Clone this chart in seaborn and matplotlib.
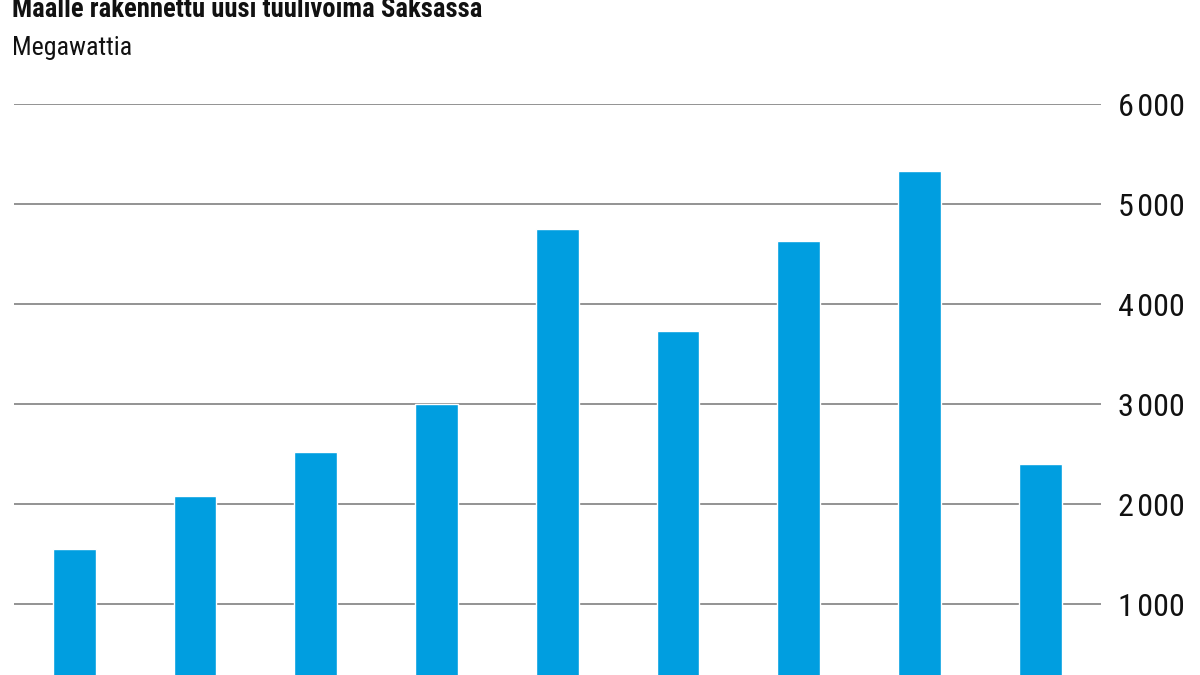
import matplotlib
matplotlib.use("Agg")
import matplotlib.pyplot as plt
from matplotlib import font_manager
import seaborn as sns
import pandas as pd

years = ["2010", "2011", "2012", "2013", "2014", "2015", "2016", "2017", "2018"]
megawatts = [1550, 2083, 2516, 2998, 4747, 3727, 4627, 5330, 2397]
yticks = [1000, 2000, 3000, 4000, 5000, 6000]
ytick_labels = ["1\u200a000", "2\u200a000", "3\u200a000", "4\u200a000", "5\u200a000", "6\u200a000"]
title = "Maalle rakennettu uusi tuulivoima Saksassa"
subtitle = "Megawattia"

sns.set_theme(style="white")
available = {f.name for f in font_manager.fontManager.ttflist}
prefs = ["Roboto Condensed", "Liberation Sans Narrow", "Open Sans Condensed",
         "Noto Sans Condensed", "DejaVu Sans Condensed", "Roboto", "Lato"]
main_font = next((p for p in prefs if p in available), "DejaVu Sans")
plt.rcParams['font.family'] = [main_font, 'DejaVu Sans']

df = pd.DataFrame({"vuosi": years, "MW": megawatts})

W, H = 1200, 675
fig = plt.figure(figsize=(12, 6.75), dpi=100)
ax = fig.add_axes([14 / W, (H - 704) / H, (1100.5 - 14) / W, 600 / H])

sns.barplot(data=df, x="vuosi", y="MW", color="#009ee0", width=0.354,
            saturation=1, ax=ax)

ax.set_xlim(-0.5, 8.5)
ax.set_ylim(0, 6000)
ax.set_xlabel("")
ax.set_ylabel("")
ax.set_axisbelow(True)
ax.yaxis.grid(True, color="#8a8a8a", linewidth=1.3)
ax.xaxis.grid(False)
for s in ax.spines.values():
    s.set_visible(False)
ax.yaxis.tick_right()
ax.set_yticks(yticks)
ax.set_yticklabels(ytick_labels)
ax.tick_params(axis="y", length=0, pad=12.5, labelsize=22, labelcolor="#111111")
ax.tick_params(axis="x", length=0, labelbottom=False)

t1 = fig.text(12 / W, (H - 17) / H, title, fontsize=20, fontweight="bold",
              color="#111111", ha="left", va="baseline")
t2 = fig.text(12 / W, (H - 55) / H, subtitle, fontsize=20, color="#111111",
              ha="left", va="baseline")

# fit text sizes to the widths seen in the reference
fig.canvas.draw()
r = fig.canvas.get_renderer()
def fit(t, target, maxsize):
    w = t.get_window_extent(r).width
    t.set_fontsize(min(maxsize, t.get_fontsize() * target / w))
fit(t1, 469, 24)
fit(t2, 120, 23)
lab = ax.get_yticklabels()[0]
w = lab.get_window_extent(r).width
ax.tick_params(axis="y", labelsize=min(24, 22 * 67 / w))

fig.savefig("out.png", dpi=100)
